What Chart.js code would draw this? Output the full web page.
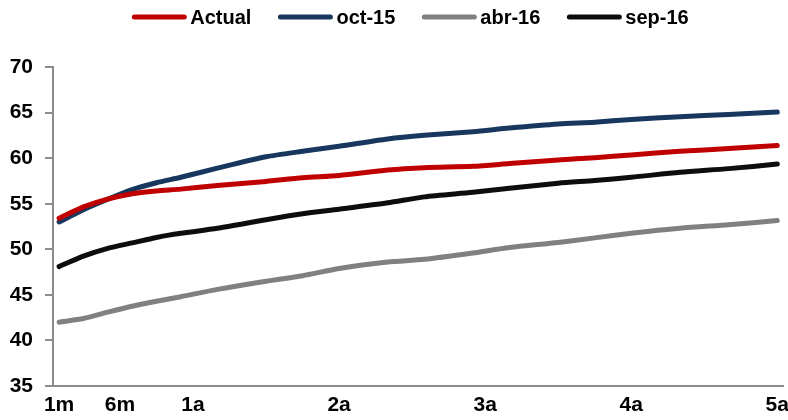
<!DOCTYPE html>
<html>
<head>
<meta charset="utf-8">
<script src="https://cdn.jsdelivr.net/npm/chart.js@4.4.0/dist/chart.umd.min.js"></script>
<style>
  html, body { margin: 0; padding: 0; background: #ffffff; }
  #wrap { width: 788px; height: 420px; }
</style>
</head>
<body>
<div id="wrap"><canvas id="c" width="788" height="420"></canvas></div>
<script>
// Curve tenors in months
const months = [1, 3, 5, 7, 9, 11, 14, 18, 21, 24, 28, 31, 35, 38, 42, 45, 48, 52, 56, 60];

// Curve values by snapshot
const actual = [53.4, 54.65, 55.5, 56.1, 56.4, 56.6, 57.0, 57.45, 57.85, 58.1, 58.7, 58.95, 59.1, 59.4, 59.8, 60.05, 60.35, 60.75, 61.05, 61.4];
const oct15  = [53.0, 54.35, 55.5, 56.55, 57.3, 57.9, 58.9, 60.15, 60.75, 61.3, 62.1, 62.5, 62.9, 63.3, 63.75, 63.95, 64.25, 64.55, 64.8, 65.05];
const abr16  = [42.0, 42.4, 43.1, 43.75, 44.3, 44.8, 45.6, 46.5, 47.1, 47.9, 48.6, 48.9, 49.6, 50.2, 50.75, 51.25, 51.75, 52.3, 52.7, 53.15];
const sep16  = [48.1, 49.25, 50.1, 50.7, 51.3, 51.75, 52.3, 53.25, 53.9, 54.4, 55.1, 55.75, 56.25, 56.7, 57.25, 57.55, 57.9, 58.45, 58.85, 59.35];

// Axis ticks
const tickMonths = [1, 6, 12, 24, 36, 48, 60];
const tickLabels = ['1m', '6m', '1a', '2a', '3a', '4a', '5a'];
const yTicks = [35, 40, 45, 50, 55, 60, 65, 70];

const seriesNames = ['Actual', 'oct-15', 'abr-16', 'sep-16'];
const seriesColors = ['#c00000', '#17375e', '#808080', '#0d0d0d'];
const seriesValues = [actual, oct15, abr16, sep16];

const FONT = '"Liberation Sans", Arial, sans-serif';
const AXIS_GRAY = '#8c8c8c';

function toPoints(values) {
  return months.map((m, i) => ({ x: m, y: values[i] }));
}

// Legend drawn as round-capped line swatches followed by bold labels
const lineLegend = {
  id: 'lineLegend',
  afterDraw(chart) {
    const ctx = chart.ctx;
    const swatch = 50, gap = 6, spacing = 29, cy = 17;
    ctx.save();
    ctx.font = 'bold 20px ' + FONT;
    const items = chart.data.datasets.map(d => ({
      label: d.label, color: d.borderColor, w: ctx.measureText(d.label).width
    }));
    const total = items.reduce((s, it) => s + swatch + gap + it.w, 0) + spacing * (items.length - 1);
    let x = (chart.width + 35) / 2 - total / 2;
    ctx.textBaseline = 'middle';
    ctx.textAlign = 'left';
    items.forEach(it => {
      ctx.beginPath();
      ctx.lineCap = 'round';
      ctx.lineWidth = 5;
      ctx.strokeStyle = it.color;
      ctx.moveTo(x, cy);
      ctx.lineTo(x + swatch, cy);
      ctx.stroke();
      ctx.fillStyle = '#000000';
      ctx.fillText(it.label, x + swatch + gap, cy + 1);
      x += swatch + gap + it.w + spacing;
    });
    ctx.restore();
  }
};

new Chart(document.getElementById('c'), {
  type: 'line',
  data: {
    datasets: seriesNames.map((name, i) => ({
      label: name,
      data: toPoints(seriesValues[i]),
      borderColor: seriesColors[i],
      backgroundColor: seriesColors[i],
      borderWidth: 5,
      borderCapStyle: 'round',
      borderJoinStyle: 'round',
      pointRadius: 0,
      tension: 0.25,
      fill: false
    }))
  },
  options: {
    responsive: false,
    animation: false,
    layout: { padding: { top: 67, right: 4, bottom: 0, left: 0 } },
    plugins: {
      legend: { display: false },
      tooltip: { enabled: false }
    },
    scales: {
      x: {
        type: 'linear',
        min: 0.5,
        max: 60.5,
        afterBuildTicks: s => { s.ticks = tickMonths.map(v => ({ value: v })); },
        afterFit: s => { s.height = 34; },
        ticks: {
          autoSkip: false,
          maxRotation: 0,
          padding: -1,
          color: '#000000',
          font: { family: FONT, size: 21, weight: 'bold' },
          callback: v => tickLabels[tickMonths.indexOf(v)]
        },
        grid: { display: false },
        border: { display: true, color: AXIS_GRAY, width: 2 }
      },
      y: {
        type: 'linear',
        min: 35,
        max: 70,
        afterBuildTicks: s => { s.ticks = yTicks.map(v => ({ value: v })); },
        afterFit: s => { s.width = 53; },
        ticks: {
          padding: 12,
          color: '#000000',
          font: { family: FONT, size: 21, weight: 'bold' }
        },
        grid: {
          display: true,
          drawOnChartArea: false,
          drawTicks: true,
          tickLength: 8,
          color: AXIS_GRAY,
          lineWidth: 2
        },
        border: { display: true, color: AXIS_GRAY, width: 2 }
      }
    }
  },
  plugins: [lineLegend]
});
</script>
</body>
</html>
